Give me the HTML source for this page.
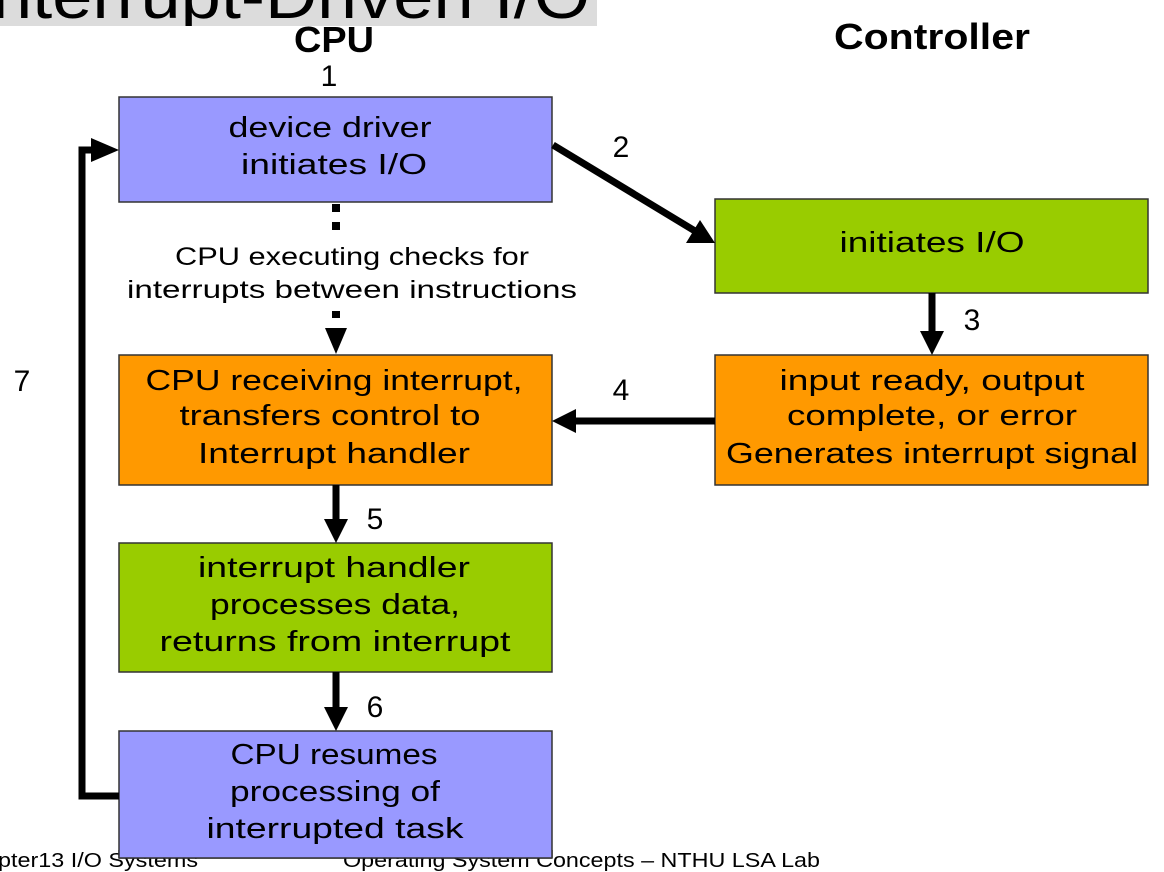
<!DOCTYPE html>
<html><head><meta charset="utf-8"><style>
html,body{margin:0;padding:0;background:#fff;width:1164px;height:872px;overflow:hidden}
svg{display:block}
text{font-family:"Liberation Sans",sans-serif;fill:#000}
</style></head><body>
<svg width="1164" height="872" viewBox="0 0 1164 872" xmlns="http://www.w3.org/2000/svg">
<defs><clipPath id="tc"><rect x="0" y="0" width="597" height="26"/></clipPath></defs>
<rect x="0" y="0" width="597" height="26" fill="#dcdcdc"/>
<g clip-path="url(#tc)"><text x="-8" y="18" font-size="64" textLength="598" lengthAdjust="spacingAndGlyphs">nterrupt-Driven I/O</text></g>

<text x="334" y="52" font-size="36" font-weight="bold" text-anchor="middle" textLength="80" lengthAdjust="spacingAndGlyphs">CPU</text>
<text x="932" y="49" font-size="36" font-weight="bold" text-anchor="middle" textLength="196" lengthAdjust="spacingAndGlyphs">Controller</text>
<g font-size="30">
<text x="329" y="86" text-anchor="middle">1</text>
<text x="621" y="157" text-anchor="middle">2</text>
<text x="972" y="330" text-anchor="middle">3</text>
<text x="621" y="400" text-anchor="middle">4</text>
<text x="375" y="529" text-anchor="middle">5</text>
<text x="375" y="717" text-anchor="middle">6</text>
<text x="22" y="391" text-anchor="middle">7</text>
</g>

<g stroke="#333" stroke-width="1.5">
<rect x="119" y="97" width="433" height="105" fill="#9999ff"/>
<rect x="715" y="199" width="433" height="94" fill="#99cc00"/>
<rect x="119" y="355" width="433" height="130" fill="#ff9900"/>
<rect x="715" y="355" width="433" height="130" fill="#ff9900"/>
<rect x="119" y="543" width="433" height="129" fill="#99cc00"/>
<rect x="119" y="731" width="433" height="127" fill="#9999ff"/>
</g>

<g stroke="#000" stroke-width="7" fill="none">
<line x1="553" y1="145" x2="695" y2="231"/>
<line x1="932" y1="293" x2="932" y2="334"/>
<line x1="715" y1="421" x2="574" y2="421"/>
<line x1="336" y1="485" x2="336" y2="522"/>
<line x1="336" y1="672" x2="336" y2="710"/>
<polyline points="119,796 82,796 82,150 96,150"/>
</g>
<g fill="#000">
<polygon points="715,243 686,243 700,220"/>
<polygon points="920,331 944,331 932,355"/>
<polygon points="552,421 576,409 576,433"/>
<polygon points="324,519 348,519 336,543"/>
<polygon points="324,707 348,707 336,731"/>
<polygon points="119,150 91,138 91,162"/>
<rect x="332" y="204" width="8" height="8"/>
<rect x="332" y="222" width="8" height="8"/>
<rect x="332" y="311" width="8" height="7"/>
<polygon points="325,328 347,328 336,354"/>
</g>

<g font-size="29" text-anchor="middle">
<text x="330" y="137" textLength="203" lengthAdjust="spacingAndGlyphs">device driver</text>
<text x="334" y="174" textLength="186" lengthAdjust="spacingAndGlyphs">initiates I/O</text>
<text x="932" y="252" textLength="185" lengthAdjust="spacingAndGlyphs">initiates I/O</text>
<text x="334" y="390" textLength="377" lengthAdjust="spacingAndGlyphs">CPU receiving interrupt,</text>
<text x="330" y="425" textLength="301" lengthAdjust="spacingAndGlyphs">transfers control to</text>
<text x="334" y="463" textLength="272" lengthAdjust="spacingAndGlyphs">Interrupt handler</text>
<text x="932" y="390" textLength="305" lengthAdjust="spacingAndGlyphs">input ready, output</text>
<text x="932" y="425" textLength="290" lengthAdjust="spacingAndGlyphs">complete, or error</text>
<text x="932" y="463" textLength="412" lengthAdjust="spacingAndGlyphs">Generates interrupt signal</text>
<text x="334" y="577" textLength="272" lengthAdjust="spacingAndGlyphs">interrupt handler</text>
<text x="335" y="614" textLength="250" lengthAdjust="spacingAndGlyphs">processes data,</text>
<text x="335" y="651" textLength="351" lengthAdjust="spacingAndGlyphs">returns from interrupt</text>
<text x="334" y="764" textLength="207" lengthAdjust="spacingAndGlyphs">CPU resumes</text>
<text x="335" y="801" textLength="210" lengthAdjust="spacingAndGlyphs">processing of</text>
<text x="335" y="838" textLength="257" lengthAdjust="spacingAndGlyphs">interrupted task</text>
</g>
<g font-size="25" text-anchor="middle">
<text x="352" y="265" textLength="354" lengthAdjust="spacingAndGlyphs">CPU executing checks for</text>
<text x="352" y="298" textLength="450" lengthAdjust="spacingAndGlyphs">interrupts between instructions</text>
</g>

<g font-size="20">
<text x="-2" y="867" textLength="200" lengthAdjust="spacingAndGlyphs">pter13  I/O Systems</text>
<text x="343" y="867" textLength="477" lengthAdjust="spacingAndGlyphs">Operating System Concepts – NTHU LSA Lab</text>
</g>
<rect x="119" y="850" width="433" height="8" fill="#9999ff"/>
<line x1="119" y1="858" x2="552" y2="858" stroke="#333" stroke-width="1.5"/>
<line x1="119" y1="850" x2="119" y2="858" stroke="#333" stroke-width="1.5"/>
<line x1="552" y1="850" x2="552" y2="858" stroke="#333" stroke-width="1.5"/>
</svg>
</body></html>
